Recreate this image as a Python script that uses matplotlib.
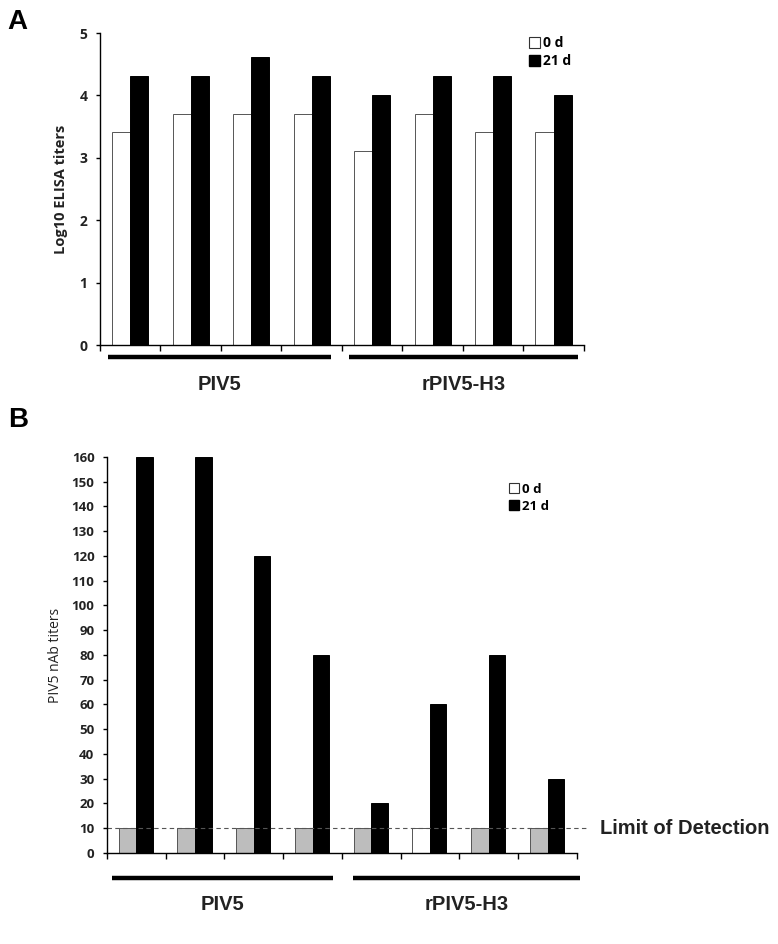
import numpy as np
import matplotlib
matplotlib.use("Agg")
import matplotlib.pyplot as plt
from matplotlib.patches import Patch

# panel A: log10 ELISA titers
elisa_0d = [3.41, 3.71, 3.71, 3.71, 3.11, 3.71, 3.41, 3.41]
elisa_21d = [4.31, 4.31, 4.61, 4.31, 4.01, 4.31, 4.31, 4.01]

# panel B: PIV5 nAb titers
nab_0d = [10, 10, 10, 10, 10, 10, 10, 10]
nab_21d = [160, 160, 120, 80, 20, 60, 80, 30]
nab_0d_colors = ["#bdbdbd", "#bdbdbd", "#bdbdbd", "#bdbdbd", "#bdbdbd", "white", "#bdbdbd", "#bdbdbd"]

groups = ["PIV5", "rPIV5-H3"]
legend_labels = ["0 d", "21 d"]
limit_of_detection = 10

tick_font = "Open Sans"
label_font = "Liberation Sans"

fig = plt.figure(figsize=(7.78, 9.44), dpi=100)
axA = fig.add_axes([0.1285, 0.6345, 0.622, 0.3305])
axB = fig.add_axes([0.1375, 0.0964, 0.604, 0.4195])

x = np.arange(len(elisa_0d)) + 0.5


def style_axis(ax, n, fs):
    ax.set_xlim(0, n)
    ax.spines["top"].set_visible(False)
    ax.spines["right"].set_visible(False)
    ax.spines["left"].set_linewidth(1.0)
    ax.spines["bottom"].set_linewidth(1.0)
    ax.set_xticks(np.arange(n + 1))
    ax.set_xticklabels([])
    ax.tick_params(axis="x", direction="out", length=4, width=1)
    ax.tick_params(axis="y", direction="out", length=3, width=1, pad=6)
    for t in ax.get_yticklabels():
        t.set_fontfamily(tick_font)
        t.set_fontweight("bold")
        t.set_fontsize(fs)
        t.set_color("#222222")


def group_bars(ax, y_line, y_text, spans, fs):
    tr = ax.get_xaxis_transform()
    for (x0, x1), name in zip(spans, groups):
        ax.plot([x0, x1], [y_line, y_line], color="black", lw=3.2,
                solid_capstyle="butt", transform=tr, clip_on=False)
        ax.text((x0 + x1) / 2, y_text, name, transform=tr, ha="center", va="center",
                fontsize=fs, fontweight="bold", family=label_font, color="#222222")


# ---- panel A
axA.bar(x - 0.15, elisa_0d, width=0.3, color="white", edgecolor="#555555", linewidth=0.7)
axA.bar(x + 0.15, elisa_21d, width=0.3, color="black", edgecolor="black", linewidth=0.7)
axA.set_ylim(0, 5)
axA.set_yticks(range(6))
style_axis(axA, len(elisa_0d), 10)
axA.set_ylabel("Log10 ELISA titers", fontsize=10.5, family=tick_font, fontweight="bold",
               color="#222222", labelpad=8)
group_bars(axA, -0.037, -0.125, [(0.13, 3.82), (4.12, 7.9)], 14.5)
handles = [Patch(facecolor="white", edgecolor="#333333", linewidth=0.8),
           Patch(facecolor="black", edgecolor="black")]
axA.legend(handles, legend_labels, loc="upper left", bbox_to_anchor=(0.86, 1.03),
           frameon=False, handlelength=0.8, handleheight=0.8, handletextpad=0.2,
           labelspacing=0.3, prop={"family": tick_font, "weight": "bold", "size": 10})
fig.text(0.01, 0.977, "A", fontsize=20, fontweight="bold", family=label_font, va="center")

# ---- panel B
axB.bar(x - 0.15, nab_0d, width=0.3, color=nab_0d_colors, edgecolor="#555555", linewidth=0.7)
axB.bar(x + 0.14, nab_21d, width=0.28, color="black", edgecolor="black", linewidth=0.7)
axB.set_ylim(0, 160)
axB.set_yticks(range(0, 161, 10))
style_axis(axB, len(nab_0d), 9.5)
axB.set_ylabel("PIV5 nAb titers", fontsize=10, family=tick_font, color="#222222", labelpad=6)
axB.plot([0, 8.17], [limit_of_detection, limit_of_detection], color="#555555", lw=0.8,
         ls=(0, (4, 3)), clip_on=False)
axB.text(8.4, limit_of_detection, "Limit of Detection", fontsize=14.5, fontweight="bold",
         family=label_font, va="center", ha="left", color="#222222")
group_bars(axB, -0.063, -0.131, [(0.085, 3.85), (4.19, 8.05)], 14.5)
axB.legend(handles, legend_labels, loc="upper left", bbox_to_anchor=(0.83, 0.965),
           frameon=False, handlelength=0.8, handleheight=0.8, handletextpad=0.2,
           labelspacing=0.3, prop={"family": tick_font, "weight": "bold", "size": 9.5})
fig.text(0.01, 0.555, "B", fontsize=20, fontweight="bold", family=label_font, va="center")

fig.savefig("out.png", dpi=100, facecolor="white")
